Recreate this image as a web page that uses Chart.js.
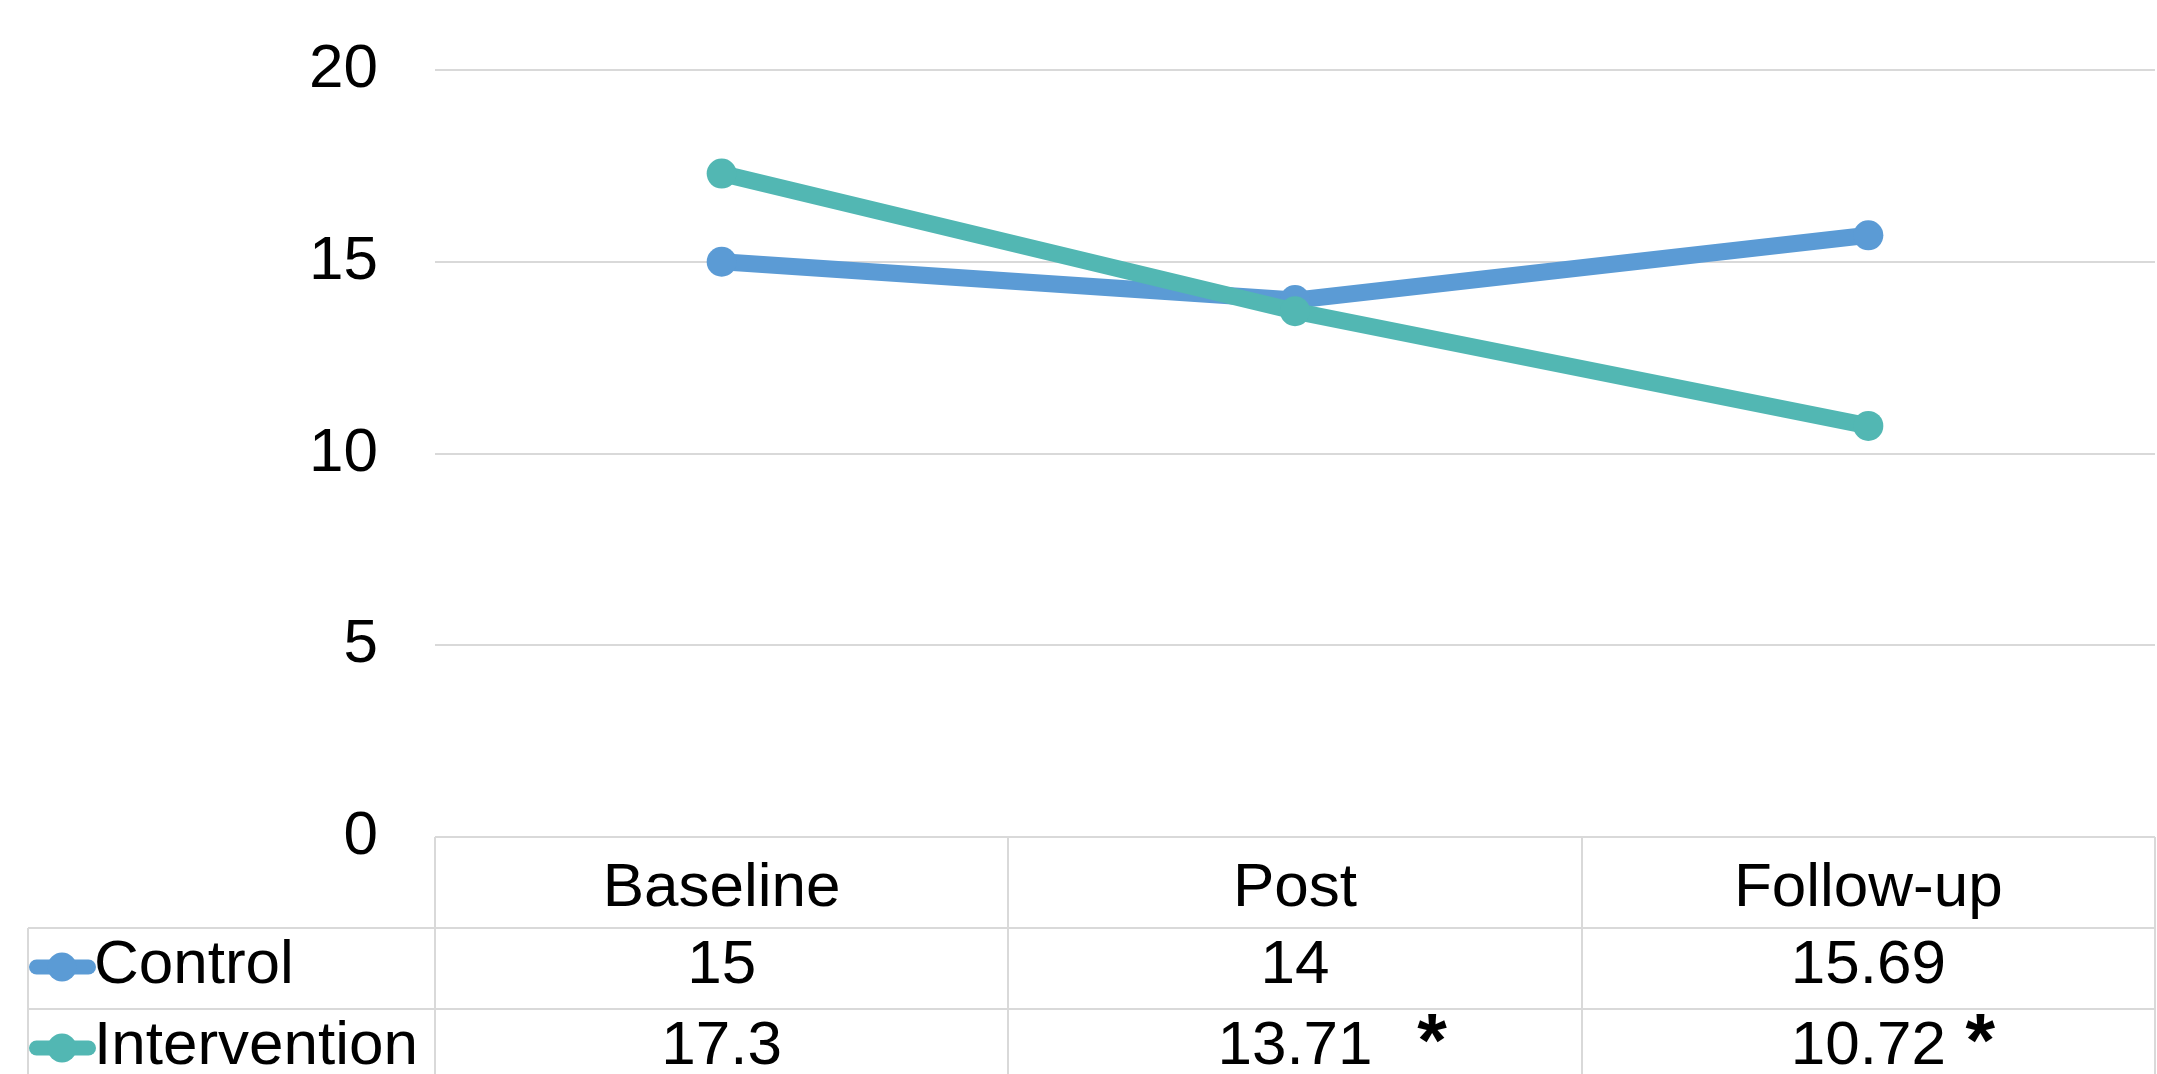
<!DOCTYPE html>
<html>
<head>
<meta charset="utf-8">
<title>Scores by time point</title>
<script src="https://cdn.jsdelivr.net/npm/chart.js@4/dist/chart.umd.min.js"></script>
<style>
  html, body { margin: 0; padding: 0; background: #ffffff; overflow: hidden; }
  #wrap { position: relative; width: 2170px; height: 1074px; }
</style>
</head>
<body>
<div id="wrap"><canvas id="chart"></canvas></div>
<script>
// Time points and mean scores per group
const timepoints = ['Baseline', 'Post', 'Follow-up'];
const controlScores = [15, 14, 15.69];
const interventionScores = [17.3, 13.71, 10.72];
// Significant change flagged with an asterisk in the data table
const interventionSignificant = [false, true, true];
// Value axis ticks
const yTicks = [0, 5, 10, 15, 20];

const FONT = "'Liberation Sans', Arial, sans-serif";
const BLUE = '#5B9BD5';
const TEAL = '#52B7B3';
const GRID = '#d9d9d9';
const LINE_W = 17;
const MARKER_R = 15;

// Draws the data table under the plot: row labels with series keys,
// the value of each point in its column, and the table borders.
const dataTablePlugin = {
  id: 'dataTable',
  afterDraw(chart, args, opts) {
    const ctx = chart.ctx;
    const x = chart.scales.x;
    const area = chart.chartArea;
    const n = timepoints.length;
    const colW = (x.right - x.left) / n;
    const headerTop = area.bottom;
    const rowTops = [headerTop + opts.headerHeight,
                     headerTop + opts.headerHeight + opts.rowHeight];
    const bottom = chart.height + 20;

    ctx.save();
    ctx.strokeStyle = GRID;
    ctx.lineWidth = 2;
    ctx.beginPath();
    // column separators
    for (let i = 0; i <= n; i++) {
      const px = Math.round(x.left + i * colW);
      ctx.moveTo(px, headerTop);
      ctx.lineTo(px, bottom);
    }
    // left edge of the row-label column
    ctx.moveTo(opts.labelLeft, rowTops[0]);
    ctx.lineTo(opts.labelLeft, bottom);
    // row separators
    rowTops.forEach(t => {
      ctx.moveTo(opts.labelLeft, t);
      ctx.lineTo(x.right, t);
    });
    ctx.stroke();

    const datasets = opts.rowOrder.map(i => chart.data.datasets[i]);
    ctx.font = `62px ${FONT}`;
    ctx.fillStyle = '#000000';
    ctx.textBaseline = 'middle';
    datasets.forEach((ds, r) => {
      const cy = rowTops[r] + opts.textOffset;
      // series key: thick line with a round marker
      ctx.save();
      ctx.strokeStyle = ds.borderColor;
      ctx.lineWidth = 15;
      ctx.lineCap = 'round';
      ctx.beginPath();
      ctx.moveTo(opts.labelLeft + 8.5, cy + 1);
      ctx.lineTo(opts.labelLeft + 60.5, cy + 1);
      ctx.stroke();
      ctx.fillStyle = ds.borderColor;
      ctx.beginPath();
      ctx.arc(opts.labelLeft + 34, cy + 1, 14.5, 0, Math.PI * 2);
      ctx.fill();
      ctx.restore();

      ctx.textAlign = 'left';
      ctx.fillText(ds.label, opts.labelLeft + 66, cy);

      ctx.textAlign = 'center';
      ds.data.forEach((v, i) => {
        const cx = x.getPixelForValue(i);
        ctx.fillText(String(v), cx, cy);
        if (ds.significant && ds.significant[i]) {
          ctx.save();
          ctx.font = `bold 76px ${FONT}`;
          ctx.textBaseline = 'alphabetic';
          ctx.fillText('*', cx + opts.starOffsets[i], rowTops[r] + 57);
          ctx.restore();
        }
      });
    });
    ctx.restore();
  }
};

new Chart(document.getElementById('chart'), {
  type: 'line',
  data: {
    labels: timepoints,
    datasets: [
      {
        label: 'Control',
        data: controlScores,
        borderColor: BLUE,
        backgroundColor: BLUE,
        pointBackgroundColor: BLUE,
        borderWidth: LINE_W,
        pointRadius: MARKER_R,
        pointBorderWidth: 0,
        tension: 0,
        order: 1
      },
      {
        label: 'Intervention',
        data: interventionScores,
        significant: interventionSignificant,
        borderColor: TEAL,
        backgroundColor: TEAL,
        pointBackgroundColor: TEAL,
        borderWidth: LINE_W,
        pointRadius: MARKER_R,
        pointBorderWidth: 0,
        tension: 0,
        order: 0
      }
    ]
  },
  options: {
    responsive: true,
    maintainAspectRatio: false,
    animation: false,
    layout: { padding: { top: 70, right: 2, bottom: 0, left: 0 } },
    plugins: {
      legend: { display: false },
      tooltip: { enabled: false },
      dataTable: {
        rowOrder: [0, 1],
        headerHeight: 91,
        rowHeight: 81,
        textOffset: 38,
        labelLeft: 28,
        starOffsets: [0, 137, 112]
      }
    },
    scales: {
      x: {
        type: 'category',
        offset: true,
        grid: { display: false },
        border: { display: false },
        ticks: {
          color: '#000000',
          font: { family: FONT, size: 62, lineHeight: 1.2 },
          padding: 7,
          maxRotation: 0,
          autoSkip: false
        },
        afterFit(scale) { scale.height = 237; }
      },
      y: {
        min: 0,
        max: 20,
        grid: { color: GRID, lineWidth: 2, drawTicks: false },
        border: { display: false },
        ticks: {
          color: '#000000',
          font: { family: FONT, size: 62 },
          padding: 57
        },
        afterBuildTicks(scale) { scale.ticks = yTicks.map(v => ({ value: v })); },
        afterFit(scale) {
          scale.width = 435;
          // the tick gap is horizontal only; keep it out of the vertical padding
          scale.paddingTop = 0;
          scale.paddingBottom = 0;
        }
      }
    }
  },
  plugins: [dataTablePlugin]
});
</script>
</body>
</html>
